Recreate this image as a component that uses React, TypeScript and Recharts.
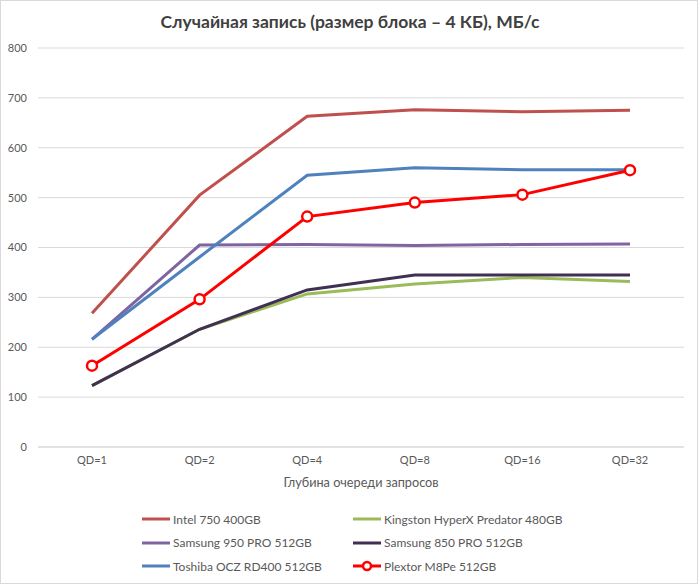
import React from "react";
import { LineChart, Line, XAxis, YAxis, CartesianGrid, Legend } from "recharts";

const categories = ["QD=1", "QD=2", "QD=4", "QD=8", "QD=16", "QD=32"];
const intel750 = [268, 505, 663, 676, 672, 675];
const kingston = [123, 236, 307, 327, 340, 332];
const samsung950 = [216, 405, 406, 404, 406, 407];
const samsung850 = [123, 236, 315, 345, 345, 345];
const toshiba = [216, 381, 545, 560, 556, 556];
const plextor = [163, 296, 462, 490, 506, 555];
const yTicks = [0, 100, 200, 300, 400, 500, 600, 700, 800];

const seriesDefs = [
  { key: "intel", name: "Intel 750 400GB", color: "#C0504D", values: intel750 },
  { key: "kingston", name: "Kingston HyperX Predator 480GB", color: "#9BBB59", values: kingston },
  { key: "s950", name: "Samsung 950 PRO 512GB", color: "#8064A2", values: samsung950 },
  { key: "s850", name: "Samsung 850 PRO 512GB", color: "#403152", values: samsung850 },
  { key: "toshiba", name: "Toshiba OCZ RD400 512GB", color: "#4F81BD", values: toshiba },
  { key: "plextor", name: "Plextor M8Pe 512GB", color: "#FF0000", values: plextor, marker: true },
];

const data = categories.map((c, i) => {
  const row: Record<string, any> = { cat: c };
  seriesDefs.forEach((s) => (row[s.key] = s.values[i]));
  return row;
});

const FONT = "Lato, 'Noto Sans', sans-serif";

const LegendContent = () => {
  const rows = [0, 2, 4];
  return (
    <div style={{ height: 71, position: "relative", fontFamily: FONT, fontSize: 12, color: "#595959" }}>
      {rows.map((r, ri) =>
        [0, 1].map((col) => {
          const s = seriesDefs[r + col];
          const left = col === 0 ? 142 : 353;
          const top = 12 + ri * 23.5 - 8;
          return (
            <div key={s.key} style={{ position: "absolute", left, top, height: 16, display: "flex", alignItems: "center", whiteSpace: "nowrap" }}>
              <svg width={29} height={16} style={{ marginRight: 2 }}>
                <line x1={0} y1={8} x2={28} y2={8} stroke={s.color} strokeWidth={3} />
                {s.marker && <circle cx={14} cy={8} r={4} fill="#fff" stroke={s.color} strokeWidth={2.5} />}
              </svg>
              <span>{s.name}</span>
            </div>
          );
        })
      )}
    </div>
  );
};

export default function App() {
  return (
    <div style={{ position: "absolute", left: 0, top: 0, width: 700, height: 585, background: "#fff" }}>
      <div style={{ position: "absolute", left: 0, top: 0, width: 696, height: 582, border: "1px solid #d9d9d9" }} />
      <div
        style={{
          position: "absolute",
          left: 0,
          top: 11,
          width: 700,
          textAlign: "center",
          fontFamily: FONT,
          fontWeight: "bold",
          fontSize: 17.5,
          color: "#404040",
        }}
      >
        Случайная запись (размер блока – 4 КБ), МБ/с
      </div>
      <LineChart width={700} height={585} data={data} margin={{ top: 48, right: 16, left: 0, bottom: 7 }}>
        <CartesianGrid vertical={false} stroke="#d9d9d9" />
        <XAxis
          dataKey="cat"
          height={60}
          padding={{ left: 54, right: 54 }}
          tickLine={false}
          tickMargin={3}
          axisLine={{ stroke: "#d9d9d9" }}
          tick={{ fill: "#595959", fontSize: 11, fontFamily: FONT }}
          interval={0}
          label={{ value: "Глубина очереди  запросов", position: "insideBottom", offset: 20, fill: "#595959", fontSize: 12.7, fontFamily: FONT }}
        />
        <YAxis
          width={38}
          domain={[0, 800]}
          ticks={yTicks}
          tickLine={false}
          axisLine={false}
          tickMargin={5}
          tick={{ fill: "#595959", fontSize: 11, fontFamily: FONT }}
        />
        <Legend verticalAlign="bottom" content={<LegendContent />} />
        {seriesDefs.map((s) => (
          <Line
            key={s.key}
            type="linear"
            dataKey={s.key}
            name={s.name}
            stroke={s.color}
            strokeWidth={3}
            dot={s.marker ? { r: 5, fill: "#fff", stroke: s.color, strokeWidth: 2.5 } : false}
            activeDot={false}
            isAnimationActive={false}
          />
        ))}
      </LineChart>
    </div>
  );
}
